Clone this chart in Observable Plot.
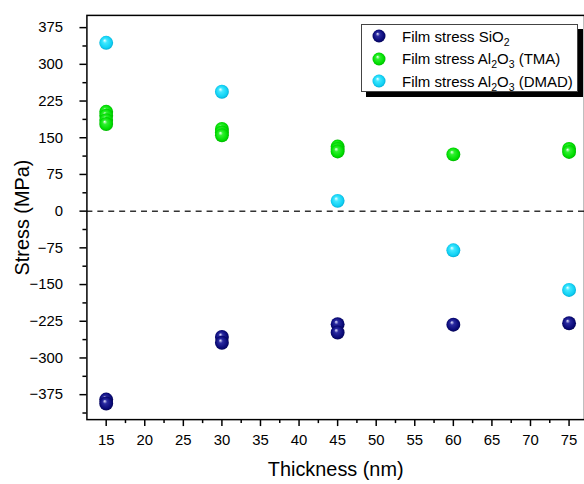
<!DOCTYPE html>
<html><head><meta charset="utf-8">
<script src="https://cdn.jsdelivr.net/npm/d3@7"></script>
<script src="https://cdn.jsdelivr.net/npm/@observablehq/plot@0.6"></script>
<style>
html,body{margin:0;padding:0;overflow:hidden;background:#fff;}
#wrap{position:relative;width:584px;height:484px;overflow:hidden;}
#legend{position:absolute;left:361px;top:24px;width:217px;height:68px;border:1px solid #444;background:#fff;box-shadow:5px 5px 0 #000;font:15px "Liberation Sans",Arial,sans-serif;color:#000;box-sizing:border-box;}
.item{position:absolute;left:0;height:22px;display:flex;align-items:center;white-space:nowrap;}
.item svg{margin-left:10px;margin-right:16px;flex:none;}
sub{font-size:10.5px;vertical-align:-4px;line-height:0;}
</style></head>
<body><div id="wrap"><div id="legend"></div></div>
<script>
// Data
const thicknessTicks = [15, 20, 25, 30, 35, 40, 45, 50, 55, 60, 65, 70, 75];
const stressTicks = [-375, -300, -225, -150, -75, 0, 75, 150, 225, 300, 375];

const sio2Thickness = [15, 15, 30, 30, 45, 45, 60, 75];
const sio2Stress    = [-385, -393, -257, -269, -231, -248, -232, -229];

const tmaThickness = [15, 15, 15, 15, 30, 30, 30, 45, 45, 45, 60, 75, 75];
const tmaStress    = [203, 195, 186, 178, 168, 161, 155, 132, 127, 122, 116, 127, 121];

const dmadThickness = [15, 30, 45, 60, 75];
const dmadStress    = [344, 244, 21, -80, -161];

const seriesNames = [
  "Film stress SiO<sub>2</sub>",
  "Film stress Al<sub>2</sub>O<sub>3</sub> (TMA)",
  "Film stress Al<sub>2</sub>O<sub>3</sub> (DMAD)"
];
const seriesIds = ["gSio2", "gTma", "gDmad"];
const gradients = {
  gSio2: ["#e8e8ff", "#2a2aa0", "#0a0a78", "#04044a"],
  gTma:  ["#f4fff4", "#30f030", "#00dd00", "#00a800"],
  gDmad: ["#f4ffff", "#40e8ff", "#10d0f4", "#00a0c8"]
};

const rows = [];
sio2Thickness.forEach((t, i) => rows.push({t, v: sio2Stress[i], g: "url(#gSio2)"}));
tmaThickness.forEach((t, i) => rows.push({t, v: tmaStress[i], g: "url(#gTma)"}));
dmadThickness.forEach((t, i) => rows.push({t, v: dmadStress[i], g: "url(#gDmad)"}));

const minorX = d3.range(17.5, 75, 5);
const minorY = d3.range(-412.5, 375, 75);

const chart = Plot.plot({
  width: 588, height: 484,
  marginLeft: 87, marginRight: 0, marginTop: 15, marginBottom: 62,
  style: {fontFamily: "'Liberation Sans', Arial, sans-serif", fontSize: "15px", color: "#000", background: "transparent"},
  x: {domain: [12.5, 77]},
  y: {domain: [-426, 400]},
  color: {type: "identity"},
  marks: [
    Plot.ruleY([0], {stroke: "#333", strokeWidth: 1.5, strokeDasharray: "6,5"}),
    Plot.axisX(minorX, {tickSize: 4, tickFormat: () => "", strokeWidth: 1.5, label: null}),
    Plot.axisY(minorY, {tickSize: 4, tickFormat: () => "", strokeWidth: 1.5, label: null}),
    Plot.axisX(thicknessTicks, {tickSize: 7, tickPadding: 8, strokeWidth: 1.5, label: "Thickness (nm)", labelAnchor: "center", labelOffset: 57, labelArrow: "none"}),
    Plot.axisY(stressTicks, {tickSize: 7, tickPadding: 17, strokeWidth: 1.5, label: "Stress (MPa)", labelAnchor: "center", labelOffset: 73, labelArrow: "none"}),
    Plot.frame({stroke: "#000", strokeWidth: 1.5}),
    Plot.dot(rows, {x: "t", y: "v", r: 7, fill: "g"})
  ]
});

const svg = d3.select(chart);
const defs = svg.insert("defs", ":first-child");
for (const id of seriesIds) {
  const c = gradients[id];
  const g = defs.append("radialGradient").attr("id", id)
    .attr("cx", "50%").attr("cy", "50%").attr("r", "55%").attr("fx", "38%").attr("fy", "32%");
  g.append("stop").attr("offset", "0%").attr("stop-color", c[0]);
  g.append("stop").attr("offset", "28%").attr("stop-color", c[1]);
  g.append("stop").attr("offset", "75%").attr("stop-color", c[2]);
  g.append("stop").attr("offset", "100%").attr("stop-color", c[3]);
}
svg.selectAll('[aria-label="x-axis label"], [aria-label="y-axis label"]').attr("font-size", 20);

document.getElementById("wrap").prepend(chart);

const legend = document.getElementById("legend");
seriesNames.forEach((name, i) => {
  const div = document.createElement("div");
  div.className = "item";
  div.style.top = (i * 22.5) + "px";
  div.innerHTML = `<svg width="14" height="14"><circle cx="7" cy="7" r="6.5" fill="url(#${seriesIds[i]})"/></svg><span>${name}</span>`;
  legend.appendChild(div);
});
</script>
</body></html>
